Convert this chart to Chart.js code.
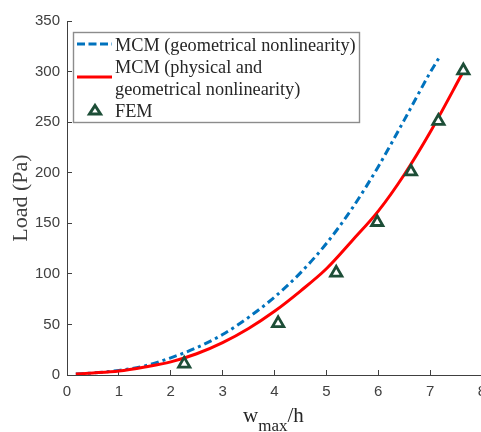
<!DOCTYPE html>
<html>
<head>
<meta charset="utf-8">
<title>Load vs w_max/h</title>
<script src="https://cdn.jsdelivr.net/npm/chart.js@4.4.1/dist/chart.umd.min.js"></script>
<style>
  html, body { margin: 0; padding: 0; background: #fff; overflow: hidden; }
  #wrap { position: relative; width: 481px; height: 432px; overflow: hidden; }
  #chart { position: absolute; left: 0; top: 0; }
  #overlay { position: absolute; left: 0; top: 0; pointer-events: none; }
  #overlay text { font-family: "Liberation Serif", "Times New Roman", serif; fill: #262626; }
</style>
</head>
<body>
<div id="wrap">
  <canvas id="chart" width="500" height="432" style="width:500px;height:432px"></canvas>
  <svg id="overlay" width="481" height="432">
    <!-- legend -->
    <rect x="73.5" y="32.5" width="286" height="90" fill="#fff" stroke="#8c8c8c" stroke-width="1.4"/>
    <line x1="77" y1="44" x2="112" y2="44" stroke="#0072bd" stroke-width="3" stroke-dasharray="8,3.5"/>
    <line x1="77" y1="77" x2="112" y2="77" stroke="#ff0000" stroke-width="3"/>
    <polygon points="95,105.5 100.5,114 89.5,114" fill="#fff" stroke="#1d4e37" stroke-width="3" stroke-linejoin="miter"/>
    <text x="115" y="51" font-size="18.3">MCM (geometrical nonlinearity)</text>
    <text x="115" y="73" font-size="18.3">MCM (physical and</text>
    <text x="115" y="94.5" font-size="18.3">geometrical nonlinearity)</text>
    <text x="115" y="116.5" font-size="18.3">FEM</text>
    <!-- x axis title -->
    <text x="243" y="422" font-size="21">w<tspan font-size="17" dy="9">max</tspan><tspan font-size="21" dy="-9">/h</tspan></text>
  </svg>
</div>
<script>
// MCM, geometrical nonlinearity only (blue dash-dot)
const geoX = [0.17, 0.5, 1, 1.5, 2, 2.5, 3, 3.5, 4, 4.5, 5, 5.5, 6, 6.5, 7, 7.2];
const geoY = [1, 2, 4.5, 9, 17, 27, 40, 57, 77, 101, 130, 165, 206, 252, 299, 316];

// MCM, physical and geometrical nonlinearity (red solid)
const physX = [0.17, 0.5, 1, 1.5, 2, 2.5, 3, 3.5, 4, 4.5, 5, 5.5, 6, 6.5, 7, 7.65];
const physY = [1, 2, 4, 8, 13, 21, 32, 46, 63, 83, 105, 133, 162, 198, 240, 301];

// FEM results (triangles)
const femX = [2.26, 4.07, 5.19, 5.98, 6.63, 7.16, 7.64];
const femY = [11, 51, 101, 151, 201, 251, 301];

const xTicks = [0, 1, 2, 3, 4, 5, 6, 7, 8];
const yTicks = [0, 50, 100, 150, 200, 250, 300, 350];

const pts = (xs, ys) => xs.map((x, i) => ({ x: x, y: ys[i] }));

const axisColor = '#404040';
const tickFont = { family: '"Liberation Sans", Arial, sans-serif', size: 15 };

new Chart(document.getElementById('chart').getContext('2d'), {
    type: 'scatter',
    data: {
        datasets: [
            {
                label: 'MCM (geometrical nonlinearity)',
                data: pts(geoX, geoY),
                showLine: true,
                borderColor: '#0072bd',
                borderWidth: 3,
                borderDash: [8, 4, 3, 4],
                pointRadius: 0,
                cubicInterpolationMode: 'monotone',
                order: 3
            },
            {
                label: 'MCM (physical and geometrical nonlinearity)',
                data: pts(physX, physY),
                showLine: true,
                borderColor: '#ff0000',
                borderWidth: 3,
                pointRadius: 0,
                cubicInterpolationMode: 'monotone',
                order: 2
            },
            {
                label: 'FEM',
                data: pts(femX, femY),
                showLine: false,
                pointStyle: 'triangle',
                pointRadius: 6.5,
                pointBorderWidth: 2.8,
                pointBorderColor: '#1d4e37',
                pointBackgroundColor: '#ffffff',
                order: 1
            }
        ]
    },
    options: {
        responsive: false,
        animation: false,
        layout: { padding: { left: 0, top: 18, right: 18, bottom: 0 } },
        plugins: { legend: { display: false }, tooltip: { enabled: false } },
        scales: {
            x: {
                type: 'linear',
                min: 0, max: 8,
                afterBuildTicks: (s) => { s.ticks = xTicks.map(v => ({ value: v })); },
                afterFit: (s) => { s.height = 57; },
                border: { color: axisColor, width: 1 },
                grid: { drawOnChartArea: false, tickLength: -5, color: axisColor },
                ticks: { color: axisColor, font: tickFont, padding: 13, maxRotation: 0 }
            },
            y: {
                type: 'linear',
                min: 0, max: 350,
                afterBuildTicks: (s) => { s.ticks = yTicks.map(v => ({ value: v })); },
                afterFit: (s) => { s.width = 67; },
                border: { color: axisColor, width: 1 },
                grid: { drawOnChartArea: false, tickLength: -5, color: axisColor },
                ticks: { color: axisColor, font: tickFont, padding: 12 },
                title: {
                    display: true,
                    text: 'Load (Pa)',
                    color: axisColor,
                    font: { family: '"Liberation Serif", "Times New Roman", serif', size: 22 },
                    padding: { top: 8, bottom: 0 }
                }
            }
        }
    }
});
</script>
</body>
</html>
